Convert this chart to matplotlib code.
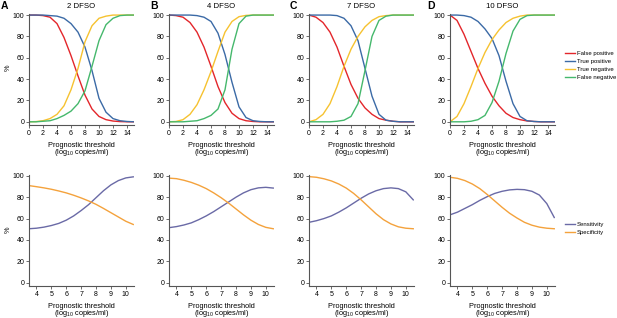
import numpy as np
import matplotlib
matplotlib.use('Agg')
import matplotlib.pyplot as plt
from matplotlib.lines import Line2D

plt.rcParams['font.family'] = ['Liberation Sans', 'DejaVu Sans']
plt.rcParams['mathtext.fontset'] = 'custom'
plt.rcParams['mathtext.rm'] = 'Liberation Sans'

W, H = 617, 318

# ---- top row: rates vs threshold ----
thr = [0, 1, 2, 3, 4, 5, 6, 7, 8, 9, 10, 11, 12, 13, 14, 15]
titles = ['2 DFSO', '4 DFSO', '7 DFSO', '10 DFSO']
letters = ['A', 'B', 'C', 'D']

false_pos = [
    [100, 100, 99.5, 98, 92, 79, 62, 43, 25, 12, 5, 2, 0.7, 0.2, 0, 0],
    [100, 99.5, 98, 93, 84, 70, 52, 33, 18, 8, 3, 1, 0.3, 0, 0, 0],
    [100, 98, 93, 84, 70, 52, 35, 22, 13, 7, 3, 1.5, 0.5, 0, 0, 0],
    [100, 95, 82, 66, 50, 36, 24, 15, 8, 4, 2, 0.8, 0.3, 0, 0, 0],
]
true_pos = [
    [100, 100, 100, 99.5, 99, 97, 92, 84, 70, 48, 22, 9, 3, 1, 0.3, 0],
    [100, 100, 100, 100, 99.5, 98, 94, 83, 63, 37, 14, 4, 1, 0.3, 0, 0],
    [100, 100, 100, 100, 99.5, 97, 90, 76, 50, 24, 7, 1.5, 0.5, 0, 0, 0],
    [100, 100, 99.5, 98, 94, 87, 78, 62, 38, 17, 5, 1, 0.3, 0, 0, 0],
]
true_neg = [
    [0, 0.2, 1, 3, 7, 15, 30, 50, 75, 90, 97, 99, 100, 100, 100, 100],
    [0, 0.3, 2, 7, 16, 30, 47, 66, 84, 94, 98.5, 99.7, 100, 100, 100, 100],
    [0, 2, 7, 17, 33, 52, 68, 80, 89, 95, 98.5, 99.5, 100, 100, 100, 100],
    [0, 5, 17, 33, 50, 65, 77, 86, 93, 97, 99, 100, 100, 100, 100, 100],
]
false_neg = [
    [0, 0, 0.5, 1, 3, 6, 10, 17, 29, 52, 76, 91, 97, 99.5, 100, 100],
    [0, 0, 0, 0.5, 1, 3, 6, 12, 30, 68, 92, 99, 100, 100, 100, 100],
    [0, 0, 0, 0, 0.5, 1.5, 5, 17, 48, 80, 95, 99, 100, 100, 100, 100],
    [0, 0, 0, 0.5, 2, 6, 18, 38, 64, 85, 96, 99.5, 100, 100, 100, 100],
]

# ---- bottom row: sensitivity / specificity ----
thr2 = [3.5, 4, 4.5, 5, 5.5, 6, 6.5, 7, 7.5, 8, 8.5, 9, 9.5, 10, 10.5]
sens = [
    [50.5, 51, 52, 53.5, 55.5, 58.5, 62.5, 67.5, 73, 79.5, 86, 91.5, 95.5, 98, 99],
    [51.5, 52.5, 54, 56, 59, 62.5, 66.5, 71, 75.5, 80, 84, 87, 88.7, 89.2, 88.5],
    [56.5, 58, 60, 62.5, 66, 70, 74.5, 79, 83, 86, 88, 88.7, 88, 85, 77.5],
    [63.5, 66, 69.5, 73, 77, 80.5, 83.5, 85.5, 86.8, 87.3, 87, 85.5, 82, 74, 61],
]
spec = [
    [90.8, 89.8, 88.7, 87.4, 85.8, 84, 81.8, 79.3, 76.5, 73.3, 69.5, 65.5, 61.5, 57.5, 54.5],
    [97.8, 97.3, 95.8, 93.8, 91.2, 88, 84, 79.5, 74.5, 69, 63.5, 58.5, 54.5, 51.8, 50.5],
    [99.2, 98.6, 97.2, 95.2, 92.3, 88.5, 83.5, 77.5, 71, 64.5, 59, 55, 52.3, 51, 50.5],
    [98.6, 97.6, 95.5, 92.3, 88, 82.5, 76.5, 70.5, 65, 60.5, 56.5, 53.8, 52, 51, 50.5],
]

c_fp, c_tp, c_tn, c_fn = '#e3262b', '#3b6aa6', '#f6c230', '#45b86c'
c_sens, c_spec = '#6a6aa6', '#f4a23c'

fs = 5.0
fig = plt.figure(figsize=(W / 100, H / 100), dpi=100)

lefts = [29, 169, 309, 450]
aw = 105


def style(ax):
    for s in ['top', 'right']:
        ax.spines[s].set_visible(False)
    for s in ['left', 'bottom']:
        ax.spines[s].set_color('#555555')
        ax.spines[s].set_linewidth(0.8)
    ax.tick_params(length=2, width=0.6, pad=1.5, labelsize=fs, color='#555555')
    ax.set_ylim(-3, 101)
    ax.set_yticks([0, 20, 40, 60, 80, 100])


def xlab(cx, y1):
    fig.text(cx / W, 1 - y1 / H, 'Prognostic threshold', fontsize=5.3,
             ha='center', va='center')
    fig.text(cx / W, 1 - (y1 + 7.5) / H, r'(log$_{\mathregular{10}}$ copies/ml)',
             fontsize=5.3, ha='center', va='center')


letter_x = [1, 150, 290, 427]
for i in range(4):
    ax = fig.add_axes([lefts[i] / W, 1 - 125 / H, aw / W, 111 / H])
    ax.plot(thr, false_pos[i], color=c_fp, lw=1.0)
    ax.plot(thr, true_pos[i], color=c_tp, lw=1.0)
    ax.plot(thr, true_neg[i], color=c_tn, lw=1.0)
    ax.plot(thr, false_neg[i], color=c_fn, lw=1.0)
    ax.set_xlim(0, 15)
    ax.set_xticks(range(0, 15, 2))
    style(ax)
    cx = lefts[i] + aw / 2
    fig.text(cx / W, 1 - 6 / H, titles[i], fontsize=5.6, ha='center', va='center')
    fig.text(letter_x[i] / W, 1 - 6 / H, letters[i], fontsize=7.5,
             fontweight='bold', ha='left', va='center')
    xlab(cx, 145.5)

    ax2 = fig.add_axes([lefts[i] / W, 1 - 286 / H, aw / W, 111.3 / H])
    ax2.plot(thr2, sens[i], color=c_sens, lw=1.0)
    ax2.plot(thr2, spec[i], color=c_spec, lw=1.0)
    ax2.set_xlim(3.5, 10.55)
    ax2.set_xticks(range(4, 11))
    style(ax2)
    xlab(cx, 306)

fig.text(8 / W, 1 - 68 / H, '%', fontsize=5.3, rotation=90, ha='center', va='center')
fig.text(8 / W, 1 - 230 / H, '%', fontsize=5.3, rotation=90, ha='center', va='center')

leg_kw = dict(loc='upper left', frameon=False, fontsize=4.3, handlelength=1.6,
              handletextpad=0.35, labelspacing=0.5, borderpad=0, borderaxespad=0)
h1 = [Line2D([], [], color=c, lw=1.0) for c in [c_fp, c_tp, c_tn, c_fn]]
fig.legend(h1, ['False positive', 'True positive', 'True negative', 'False negative'],
           bbox_to_anchor=(565 / W, 1 - 50.5 / H), **leg_kw)
h2 = [Line2D([], [], color=c, lw=1.0) for c in [c_sens, c_spec]]
fig.legend(h2, ['Sensitivity', 'Specificity'],
           bbox_to_anchor=(565 / W, 1 - 221.5 / H), **leg_kw)

fig.savefig('out.png', dpi=100)
